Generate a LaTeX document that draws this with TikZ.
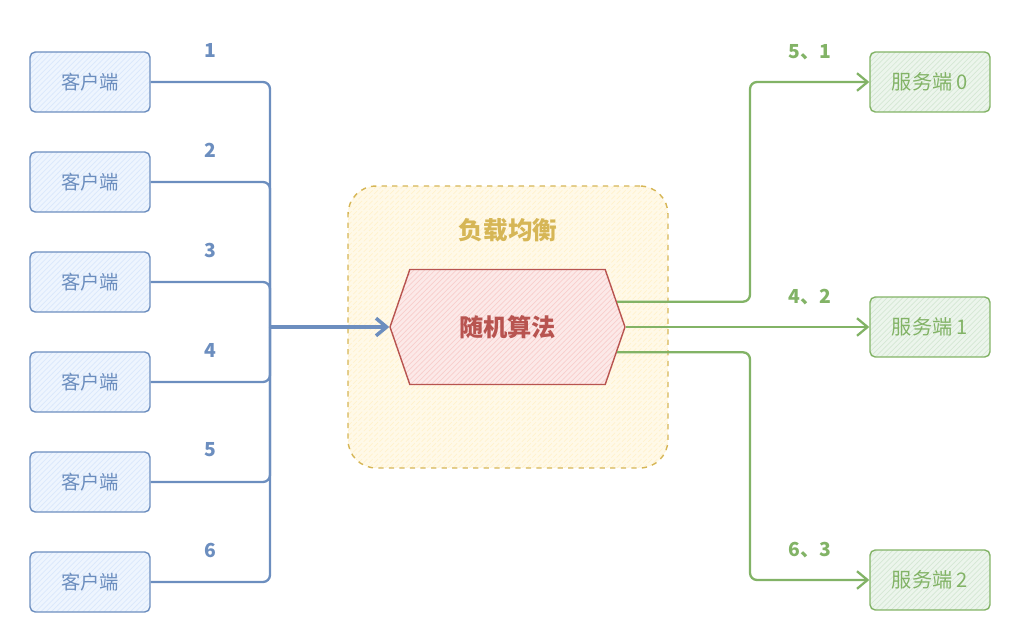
\documentclass[tikz,border=0pt]{standalone}
\usepackage{fontspec}
\setmainfont{Noto Sans CJK SC}
\usetikzlibrary{arrows.meta,shapes.symbols,patterns}
\definecolor{bline}{HTML}{6C8EBF}
\definecolor{bfill}{HTML}{DAE8FC}
\definecolor{gline}{HTML}{82B366}
\definecolor{gfill}{HTML}{D5E8D4}
\definecolor{rline}{HTML}{B85450}
\definecolor{rfill}{HTML}{F8CECC}
\definecolor{yline}{HTML}{D6B656}
\definecolor{yfill}{HTML}{FFF2CC}
\tikzset{
  hatch/.style={preaction={fill=#1!45},preaction={pattern=north east lines,pattern color=#1}},
  client/.style={draw=bline,hatch=bfill,text=bline,line width=0.8pt,rounded corners=3pt,minimum width=2.4cm,minimum height=1.2cm,font=\fontsize{11}{13}\selectfont},
  server/.style={draw=gline,hatch=gfill,text=gline,line width=0.8pt,rounded corners=3pt,minimum width=2.4cm,minimum height=1.2cm,font=\fontsize{11.5}{13}\selectfont},
  num/.style={font=\fontsize{11}{13}\selectfont\bfseries},
  bwire/.style={draw=bline,line width=1.3pt,rounded corners=4pt},
  gwire/.style={draw=gline,line width=1.3pt,rounded corners=4pt,-{Straight Barb[length=6pt,width=10pt]}}
}
\begin{document}
\begin{tikzpicture}[x=0.02cm,y=-0.02cm]
  \useasboundingbox (0,0) rectangle (1021,642);
  \node[draw=yline,hatch=yfill,dashed,line width=0.8pt,rounded corners=16pt,minimum width=6.4cm,minimum height=5.64cm] (lb) at (508,327) {};
  \node[text=yline,font=\fontsize{14}{16}\selectfont\bfseries] (lbname) at (508,230) {负载均衡};
  \node[signal,signal to=east and west,signal pointer angle=142,draw=rline,hatch=rfill,line width=0.8pt,minimum width=4.7cm,minimum height=2.3cm,text=rline,font=\fontsize{13.8}{16}\selectfont\bfseries] (algo) at (507.5,327) {随机算法};
  \coordinate (hub) at (270,327);
  \coordinate (xg) at (750,0);
  \foreach \i in {1,...,6} {
    \node[client] (c\i) at (90,{82+100*(\i-1)}) {客户端};
    \node[num,text=bline] (n\i) at (210,{50+100*(\i-1)}) {\i};
    \draw[bwire] (c\i.east) -- (c\i.east -| hub) -- (hub);
  }
  \draw[bwire,line width=2pt,-{Straight Barb[length=6pt,width=10pt]}] (hub) -- (algo.west);
  \foreach \k/\y/\t in {0/82/5、1,1/327/4、2,2/580/6、3} {
    \node[server] (s\k) at (930,\y) {服务端 \k};
    \node[num,text=gline] (m\k) at (810,\y-30) {\t};
  }
  \draw[gwire] (algo.13.5) -- (algo.13.5 -| xg) |- (s0.west);
  \draw[gwire] (algo.east) -- (s1.west);
  \draw[gwire] (algo.-13.5) -- (algo.-13.5 -| xg) |- (s2.west);
\end{tikzpicture}
\end{document}
